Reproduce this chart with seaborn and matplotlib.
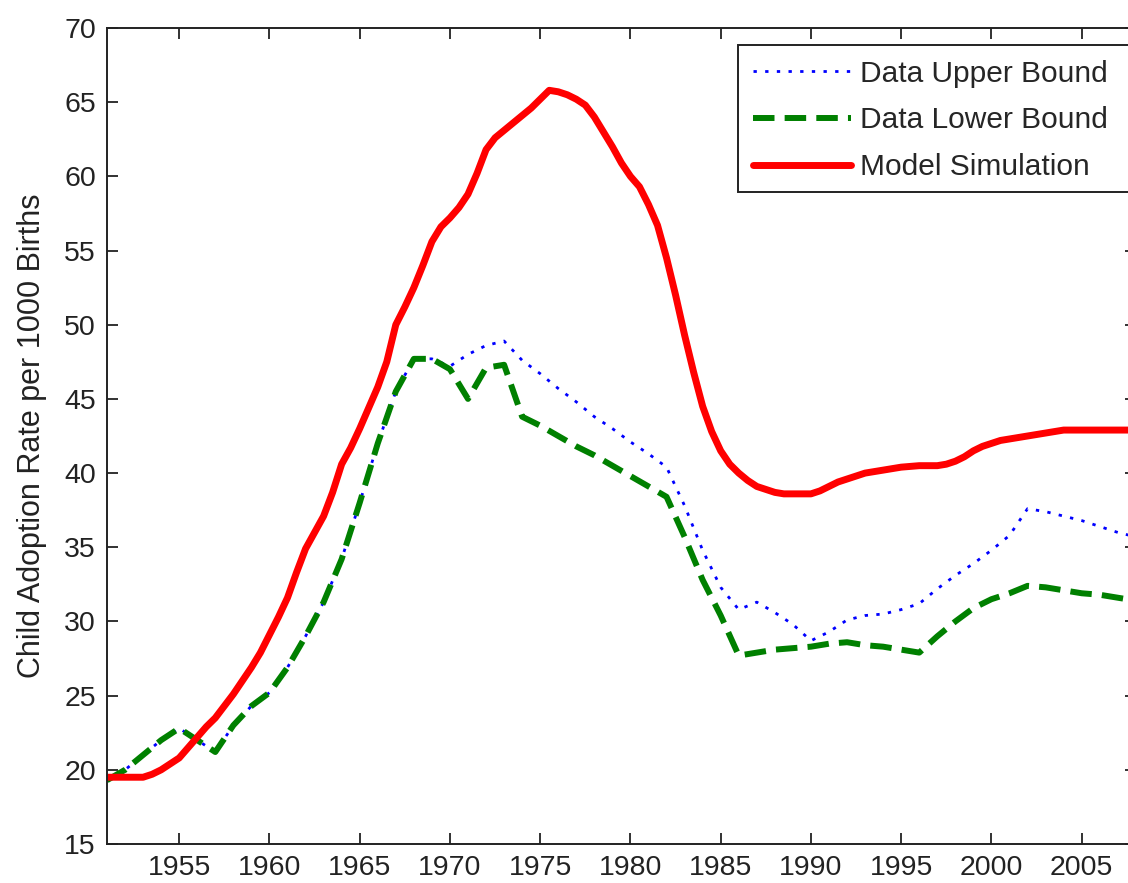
import matplotlib
matplotlib.use("Agg")
import matplotlib.pyplot as plt
from matplotlib.patches import Rectangle
import seaborn as sns
import numpy as np
import pandas as pd

# Observed data bounds, one value per year
years = list(range(1951, 2009))

upper_bound = [19.3, 20.0, 21.0, 22.0, 22.8, 22.0, 21.2, 23.0, 24.3, 25.2,
               26.9, 29.0, 31.3, 34.2, 38.0, 42.0, 45.5, 47.7, 47.7, 47.2,
               48.0, 48.6, 48.9, 47.6, 46.7, 45.7, 44.8, 43.8, 43.0, 42.1,
               41.3, 40.4, 37.8, 34.8, 32.3, 30.8, 31.3, 30.6, 29.8, 28.7,
               29.3, 30.1, 30.4, 30.5, 30.8, 31.2, 32.2, 33.1, 33.9, 34.8,
               35.8, 37.6, 37.4, 37.1, 36.8, 36.4, 36.0, 35.7]

lower_bound = [19.3, 20.0, 21.0, 22.0, 22.8, 22.0, 21.2, 23.0, 24.3, 25.2,
               26.9, 29.0, 31.3, 34.2, 38.0, 42.0, 45.5, 47.7, 47.7, 47.0,
               45.0, 47.1, 47.3, 43.8, 43.2, 42.5, 41.8, 41.2, 40.5, 39.8,
               39.1, 38.4, 35.7, 32.8, 30.4, 27.7, 27.9, 28.1, 28.2, 28.3,
               28.5, 28.6, 28.4, 28.3, 28.1, 27.9, 29.0, 30.0, 30.9, 31.5,
               31.9, 32.4, 32.3, 32.1, 31.9, 31.8, 31.6, 31.4]

# Model output, sampled every half year from 1951 to 2008
model_years = np.arange(1951.0, 2008.01, 0.5)
model_sim = [
    19.5, 19.5, 19.5, 19.5, 19.5, 19.7, 20.0, 20.4, 20.8, 21.5,   # 1951-1955
    22.2, 22.9, 23.5, 24.3, 25.1, 26.0, 26.9, 27.9, 29.1, 30.3,   # 1956-1960
    31.6, 33.3, 34.9, 36.0, 37.1, 38.7, 40.6, 41.7, 43.0, 44.4,   # 1961-1965
    45.8, 47.5, 50.0, 51.2, 52.5, 54.0, 55.6, 56.6, 57.2, 57.9,   # 1966-1970
    58.8, 60.2, 61.8, 62.6, 63.1, 63.6, 64.1, 64.6, 65.2, 65.8,   # 1971-1975
    65.7, 65.5, 65.2, 64.8, 64.0, 63.0, 62.0, 60.9, 60.0, 59.3,   # 1976-1980
    58.1, 56.7, 54.5, 52.0, 49.3, 46.8, 44.5, 42.8, 41.5, 40.6,   # 1981-1985
    40.0, 39.5, 39.1, 38.9, 38.7, 38.6, 38.6, 38.6, 38.6, 38.8,   # 1986-1990
    39.1, 39.4, 39.6, 39.8, 40.0, 40.1, 40.2, 40.3, 40.4, 40.45,  # 1991-1995
    40.5, 40.5, 40.5, 40.6, 40.8, 41.1, 41.5, 41.8, 42.0, 42.2,   # 1996-2000
    42.3, 42.4, 42.5, 42.6, 42.7, 42.8, 42.9, 42.9, 42.9, 42.9,   # 2001-2005
    42.9, 42.9, 42.9, 42.9, 42.9,                                 # 2006-2008
]

x_ticks = list(range(1955, 2010, 5))
y_ticks = list(range(15, 75, 5))

data_df = pd.DataFrame({"year": years, "upper": upper_bound,
                        "lower": lower_bound})
model_df = pd.DataFrame({"year": model_years, "model": model_sim})

sns.set_style("ticks")
plt.rcParams["font.family"] = ["Liberation Sans", "DejaVu Sans"]

W, H = 1128, 883
fig = plt.figure(figsize=(W / 100, H / 100), dpi=100)

# Axes spans 1951-2008; its right part runs past the canvas edge
px_per_year = 18.05
ax_left = 107 / W
ax_width = (2008 - 1951) * px_per_year / W
ax_bottom = (H - 844) / H
ax_height = (844 - 28) / H
ax = fig.add_axes([ax_left, ax_bottom, ax_width, ax_height])

sns.lineplot(data=data_df, x="year", y="upper", ax=ax, color="#0000ff",
             linewidth=2.0, label="Data Upper Bound", estimator=None,
             errorbar=None, dashes=False, linestyle=(0, (1.2, 3.0)))
sns.lineplot(data=data_df, x="year", y="lower", ax=ax, color="#008000",
             linewidth=4.3, label="Data Lower Bound", estimator=None,
             errorbar=None, dashes=False, linestyle=(0, (3.6, 1.7)))
sns.lineplot(data=model_df, x="year", y="model", ax=ax, color="#ff0000",
             linewidth=5.0, label="Model Simulation", estimator=None,
             errorbar=None, dashes=False)

ax.set_xlim(1951, 2008)
ax.set_ylim(15, 70)
ax.set_xticks(x_ticks)
ax.set_yticks(y_ticks)
ax.set_xlabel("")
ax.set_ylabel("Child Adoption Rate per 1000 Births", fontsize=22,
              color="#222222")
ax.yaxis.set_label_coords(-0.0585, 0.5)

ax.tick_params(axis="both", which="major", direction="in", length=8,
               width=1.3, top=True, right=True, labelsize=20.5, pad=8,
               colors="#222222")
for s in ax.spines.values():
    s.set_linewidth(1.4)
    s.set_color("#222222")
    s.set_visible(True)

# Legend entries without their own frame; a box drawn behind them runs
# past the right edge of the canvas
leg_x0 = 738 / W
leg_top = 1 - 45 / H
leg = ax.legend(loc="upper left", bbox_to_anchor=(leg_x0, leg_top),
                bbox_transform=fig.transFigure, borderaxespad=0,
                fontsize=21.5, frameon=False, handlelength=3.3,
                handletextpad=0.27, labelspacing=0.62, borderpad=0.5)
leg.set_zorder(6)

box_bottom = 1 - 192 / H
legend_box = Rectangle((leg_x0, box_bottom), (1190 - 738) / W,
                       leg_top - box_bottom, transform=fig.transFigure,
                       facecolor="white", edgecolor="#222222",
                       linewidth=1.4, clip_on=False, zorder=5.5)
ax.add_artist(legend_box)

fig.savefig("out.png", dpi=100)
